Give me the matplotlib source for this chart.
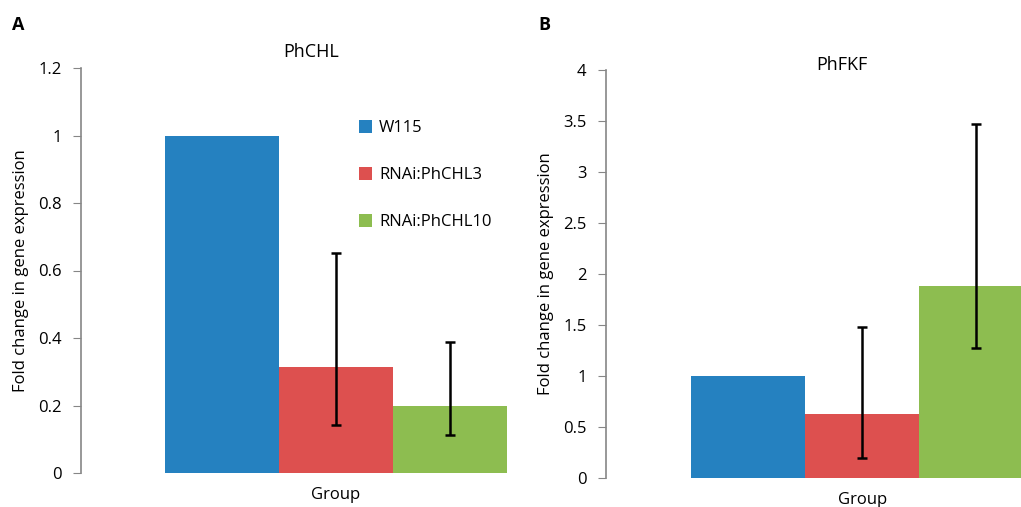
import numpy as np
import matplotlib
matplotlib.use("Agg")
import matplotlib.pyplot as plt

plt.rcParams['font.family'] = ['Open Sans', 'DejaVu Sans']

# data
series = ["W115", "RNAi:PhCHL3", "RNAi:PhCHL10"]
colors = ["#2581c0", "#dd504f", "#8dbd50"]
group_label = "Group"

chl_vals = [1.0, 0.315, 0.2]
chl_err_low = [0.0, 0.173, 0.087]
chl_err_high = [0.0, 0.337, 0.188]

fkf_vals = [1.0, 0.625, 1.88]
fkf_err_low = [0.0, 0.425, 0.61]
fkf_err_high = [0.0, 0.855, 1.59]

W, H = 1021, 507
fig = plt.figure(figsize=(W / 100, H / 100), dpi=100)

def px(x0, y0, x1, y1):
    # pixel box -> figure fraction [left, bottom, width, height]
    return [x0 / W, 1 - y1 / H, (x1 - x0) / W, (y1 - y0) / H]


def panel(ax, vals, lo, hi, ymax, step, xlim):
    pos = np.arange(len(vals)) - 1.0
    ax.bar(pos, vals, width=1.0, color=colors, label=series, zorder=2)
    for i in range(len(vals)):
        if hi[i] > 0:
            ax.errorbar(pos[i], vals[i], yerr=[[lo[i]], [hi[i]]], fmt='none',
                        ecolor='black', elinewidth=1.8, capsize=3.6,
                        capthick=1.8, zorder=3)
    ax.set_xlim(*xlim)
    ax.set_ylim(0, ymax)
    ticks = np.arange(0, ymax + step / 2, step)
    ax.set_yticks(ticks)
    ax.set_yticklabels(["%g" % t for t in ticks])
    ax.set_xticks([0])
    ax.set_xticklabels([group_label])
    ax.tick_params(axis='x', length=0, labelsize=12, pad=10)
    ax.tick_params(axis='y', length=6, color='#868686', labelsize=12, pad=8)
    for s in ['top', 'right', 'bottom']:
        ax.spines[s].set_visible(False)
    ax.spines['left'].set_color('#868686')
    ax.spines['left'].set_linewidth(1.2)
    ax.patch.set_alpha(0)
    ax.set_ylabel("Fold change in gene expression", fontsize=12)
    return ax


# panel A
axA = fig.add_axes(px(81, 68, 510, 473))
panel(axA, chl_vals, chl_err_low, chl_err_high, 1.2, 0.2,
      (-2.237, 1.53))
axA.yaxis.set_label_coords(-52 / 429, 0.5)
axA.legend(*axA.get_legend_handles_labels(), loc='upper left',
           bbox_to_anchor=((344 - 81) / 429, (473 - 105) / 405),
           frameon=False, fontsize=12, handlelength=0.8, handleheight=0.8,
           handletextpad=0.4, labelspacing=1.85)

# panel B
axB = fig.add_axes(px(606, 70, 1021, 478))
panel(axB, fkf_vals, fkf_err_low, fkf_err_high, 4.0, 0.5,
      (-2.246, 1.394))
axB.yaxis.set_label_coords(-52 / 415, 0.5)

fig.text(311 / W, 1 - 52 / H, "PhCHL", ha='center', va='center', fontsize=13)
fig.text(842 / W, 1 - 65 / H, "PhFKF", ha='center', va='center', fontsize=13)
fig.text(18 / W, 1 - 25 / H, "A", ha='center', va='center', fontsize=13,
         fontweight='bold')
fig.text(544 / W, 1 - 25 / H, "B", ha='center', va='center', fontsize=13,
         fontweight='bold')

fig.savefig("out.png", dpi=100)
